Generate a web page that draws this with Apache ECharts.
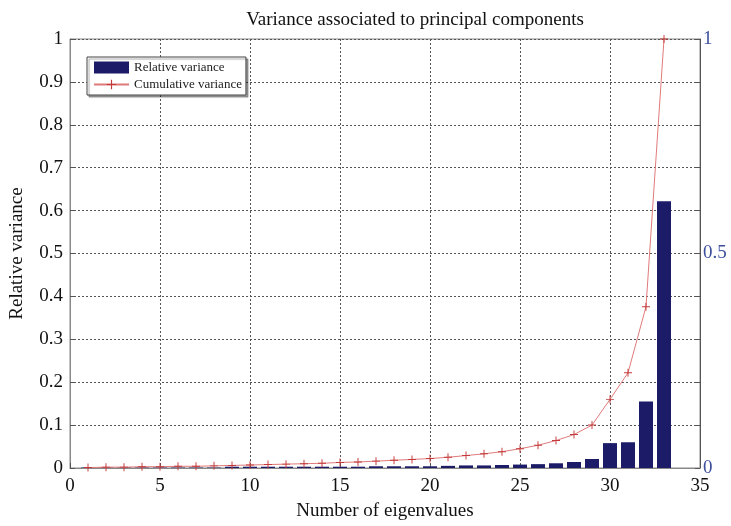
<!DOCTYPE html>
<html>
<head>
<meta charset="utf-8">
<script src="https://cdn.jsdelivr.net/npm/echarts@6/dist/echarts.min.js"></script>
<style>html,body{margin:0;padding:0;background:#fff;}#c{width:731px;height:526px;}</style>
</head>
<body>
<div id="c"></div>
<script>
// Eigenvalue indices
var components = [1,2,3,4,5,6,7,8,9,10,11,12,13,14,15,16,17,18,19,20,21,22,23,24,25,26,27,28,29,30,31,32,33];
// Relative variance (bars)
var relativeVariance = [0.001,0.001,0.001,0.001,0.001,0.001,0.001,0.001,0.003,0.003,0.003,0.003,0.003,0.003,0.003,0.003,0.004,0.004,0.004,0.004,0.005,0.006,0.006,0.007,0.008,0.009,0.011,0.014,0.021,0.058,0.060,0.155,0.622];
// Cumulative variance (line)
var cumulativeVariance = [0.001,0.002,0.002,0.003,0.003,0.004,0.004,0.005,0.006,0.007,0.008,0.009,0.010,0.011,0.013,0.014,0.016,0.018,0.020,0.022,0.025,0.029,0.033,0.038,0.045,0.053,0.064,0.078,0.100,0.160,0.222,0.376,1.0];
// Tick labels
var xTicks = [0,5,10,15,20,25,30,35];
var rightLabels = ['0','0.5','1'];

var FONT = '"Liberation Serif","DejaVu Serif",serif';
var barData = components.map(function(c,i){return [c, relativeVariance[i]];});
var lineData = components.map(function(c,i){return [c, cumulativeVariance[i]];});
var plus = 'path://M4.4,0 L5.6,0 L5.6,4.4 L10,4.4 L10,5.6 L5.6,5.6 L5.6,10 L4.4,10 L4.4,5.6 L0,5.6 L0,4.4 L4.4,4.4 Z';

var chart = echarts.init(document.getElementById('c'));
chart.setOption({
  animation: false,
  backgroundColor: '#fff',
  title: {
    text: 'Variance associated to principal components',
    left: 410, top: 6, textAlign: 'center',
    textStyle: {fontFamily: FONT, fontSize: 19, fontWeight: 'normal', color: '#111'}
  },
  legend: {
    orient: 'vertical', left: 87, top: 57,
    itemWidth: 35, itemHeight: 12, itemGap: 4,
    padding: [4, 4, 4, 6],
    backgroundColor: '#fff', borderColor: '#444', borderWidth: 1,
    shadowColor: 'rgba(0,0,0,0.35)', shadowOffsetX: 2, shadowOffsetY: 2, shadowBlur: 1,
    textStyle: {fontFamily: FONT, fontSize: 13, color: '#222'},
    data: [{name: 'Relative variance', icon: 'rect'}, {name: 'Cumulative variance'}]
  },
  grid: {left: 67, right: 31, top: 39, bottom: 58, show: true, borderColor: '#888', borderWidth: 1},
  xAxis: {
    type: 'value', min: 0, max: 35, interval: 5,
    name: 'Number of eigenvalues', nameLocation: 'middle', nameGap: 34,
    nameTextStyle: {fontFamily: FONT, fontSize: 19, color: '#111'},
    axisLine: {show: true, lineStyle: {color: '#888'}},
    axisTick: {show: true, inside: true, length: 5, lineStyle: {color: '#555'}},
    axisLabel: {fontFamily: FONT, fontSize: 19, color: '#111', margin: 9,
      formatter: function(v){ return xTicks.indexOf(v) >= 0 ? String(v) : ''; }},
    splitLine: {show: true, lineStyle: {type: [2, 2], color: '#555', width: 1}}
  },
  yAxis: [{
    type: 'value', min: 0, max: 1, interval: 0.1,
    name: 'Relative variance', nameLocation: 'middle', nameGap: 43, nameRotate: 90,
    nameTextStyle: {fontFamily: FONT, fontSize: 19, color: '#111'},
    axisLine: {show: true, lineStyle: {color: '#888'}},
    axisTick: {show: true, inside: true, length: 5, lineStyle: {color: '#555'}},
    axisLabel: {fontFamily: FONT, fontSize: 19, color: '#111', margin: 7,
      formatter: function(v){ return Math.round(v*10)/10 + ''; }},
    splitLine: {show: true, lineStyle: {type: [2, 2], color: '#555', width: 1}}
  }, {
    type: 'value', min: 0, max: 1, interval: 0.1, position: 'right',
    axisLine: {show: true, lineStyle: {color: '#555'}},
    axisTick: {show: true, inside: true, length: 5, lineStyle: {color: '#555'}},
    axisLabel: {fontFamily: FONT, fontSize: 19, color: '#3d4f9c', margin: 3,
      formatter: function(v){ var s = String(Math.round(v*10)/10); return rightLabels.indexOf(s) >= 0 ? s : ''; }},
    splitLine: {show: false}
  }],
  series: [{
    name: 'Relative variance', type: 'bar', yAxisIndex: 0,
    data: barData, barWidth: 14,
    itemStyle: {color: '#1b1b68'}
  }, {
    name: 'Cumulative variance', type: 'line', yAxisIndex: 1,
    data: lineData,
    symbol: plus, symbolSize: 8, showSymbol: true,
    lineStyle: {color: '#e07a7a', width: 1},
    itemStyle: {color: '#c43a3a'},
    z: 3
  }]
});
</script>
</body>
</html>
